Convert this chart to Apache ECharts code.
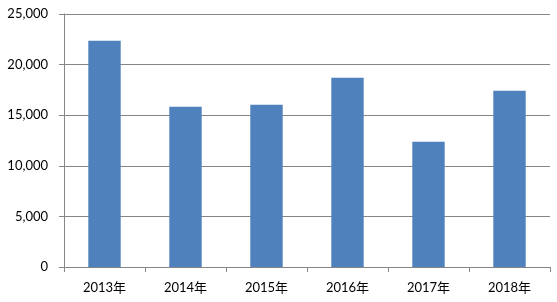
<!DOCTYPE html>
<html><head><meta charset="utf-8">
<script src="https://cdn.jsdelivr.net/npm/echarts@6/dist/echarts.min.js"></script>
<style>html,body{margin:0;padding:0;background:#fff}#c{width:557px;height:302px}</style>
</head><body><div id="c"></div>
<script>
const categories = ['2013年','2014年','2015年','2016年','2017年','2018年'];
const values = [22360, 15840, 16040, 18700, 12380, 17420];
const yTicks = [0, 5000, 10000, 15000, 20000, 25000];

const font = "Lato, 'Noto Sans CJK SC', sans-serif";
const chart = echarts.init(document.getElementById('c'), null, {renderer: 'canvas'});
chart.setOption({
  animation: false,
  grid: {left: 64, right: 7, top: 14, bottom: 35, containLabel: false},
  xAxis: {
    type: 'category', data: categories,
    axisLine: {lineStyle: {color: '#868686', width: 1}},
    axisTick: {show: true, length: 5, alignWithLabel: false, lineStyle: {color: '#868686'}},
    axisLabel: {color: '#000', fontSize: 13, fontFamily: font, margin: 14}
  },
  yAxis: {
    type: 'value', min: yTicks[0], max: yTicks[yTicks.length-1], interval: 5000,
    axisLine: {show: true, lineStyle: {color: '#868686', width: 1}},
    axisTick: {show: true, length: 5, lineStyle: {color: '#868686'}},
    splitLine: {lineStyle: {color: '#868686', width: 1}},
    axisLabel: {color: '#000', fontSize: 13, fontFamily: font, margin: 16,
      formatter: v => v.toLocaleString('en-US')}
  },
  series: [{
    type: 'bar', data: values, barCategoryGap: '60%',
    itemStyle: {color: '#4F81BD'}
  }]
});
</script></body></html>
